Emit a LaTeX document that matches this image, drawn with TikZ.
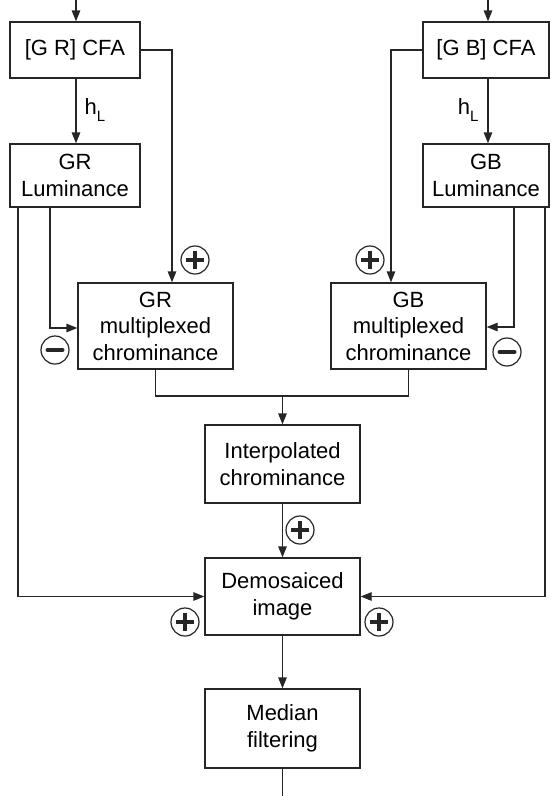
\documentclass[tikz,border=0pt]{standalone}
\usepackage{fontspec}
\setmainfont{Liberation Sans}
\usetikzlibrary{arrows.meta,calc}
\begin{document}
\begin{tikzpicture}[x=1pt,y=-1pt,
  line width=1.3pt, draw=black!85,
  box/.style={draw=black!85, line width=1.3pt, inner sep=0pt, align=center,
    font=\fontsize{22}{26.5}\selectfont},
  arr/.style={-{Triangle[length=11pt,width=8.5pt]}},
  lbl/.style={inner sep=0pt, font=\fontsize{22}{26}\selectfont},
  sgn/.style={circle, draw=black!85, minimum size=28pt, inner sep=0pt, line width=1.2pt},
  plus/.style={sgn, path picture={
    \draw[line width=3.4pt] ($(path picture bounding box.center)+(-9,0)$) -- ++(18,0);
    \draw[line width=3.4pt] ($(path picture bounding box.center)+(0,-9)$) -- ++(0,18);}},
  minus/.style={sgn, path picture={
    \draw[line width=4pt, line cap=round] ($(path picture bounding box.center)+(-7.5,0)$) -- ++(15,0);}},
]
\useasboundingbox (0,0) rectangle (550,796);

% boxes
\node[box, minimum width=130pt, minimum height=56pt] (cfaR) at (75,50) {[G R] CFA};
\node[box, minimum width=126pt, minimum height=56pt] (cfaB) at (486,50) {[G B] CFA};
\node[box, minimum width=130pt, minimum height=63pt] (lumR) at (75,175.5) {GR\\Luminance};
\node[box, minimum width=126pt, minimum height=63pt] (lumB) at (486,175.5) {GB\\Luminance};
\node[box, minimum width=155pt, minimum height=86pt] (muxR) at (155.5,326) {GR\\multiplexed\\chrominance};
\node[box, minimum width=155pt, minimum height=86pt] (muxB) at (408.5,326) {GB\\multiplexed\\chrominance};
\node[box, minimum width=155pt, minimum height=78pt] (interp) at (282.5,464) {Interpolated\\chrominance};
\node[box, minimum width=155pt, minimum height=77pt] (demo) at (282.5,596.5) {Demosaiced\\image};
\node[box, minimum width=155pt, minimum height=79pt] (median) at (282.5,728.5) {Median\\filtering};

% coordinates for vertical lines
\coordinate (inR) at (76,0);
\coordinate (inB) at (488,0);
\coordinate (cR) at (172,0);
\coordinate (cB) at (391,0);
\coordinate (aR) at (50,0);
\coordinate (oR) at (18,0);
\coordinate (aB) at (514,0);
\coordinate (oB) at (545,0);
\coordinate (j) at (282.5,396);
\coordinate (out) at (282.5,796);

% connectors
\draw[arr] (inR) -- (inR |- cfaR.north);
\draw[arr] (inB) -- (inB |- cfaB.north);
\draw[arr] (inR |- cfaR.south) -- (inR |- lumR.north);
\draw[arr] (inB |- cfaB.south) -- (inB |- lumB.north);
\draw[arr] (cfaR.east) -| (cR |- muxR.north);
\draw[arr] (cfaB.west) -| (cB |- muxB.north);
\draw[arr] (aR |- lumR.south) |- ($(muxR.west)+(0,2)$);
\draw[arr] (aB |- lumB.south) |- ($(muxB.east)+(0,1)$);
\draw[arr] (oR |- lumR.south) |- (demo.west);
\draw[arr] (oB |- lumB.south) |- (demo.east);
\draw (muxR.south) |- (j) -| (muxB.south);
\draw[arr] (j) -- (interp.north);
\draw[arr] (interp) -- (demo);
\draw[arr] (demo) -- (median);
\draw (median.south) -- (out);

% labels
\node[lbl, anchor=west] (hR) at (84,110) {h\raisebox{-7pt}{\fontsize{15}{15}\selectfont L}};
\node[lbl, anchor=east] (hB) at (479,110) {h\raisebox{-7pt}{\fontsize{15}{15}\selectfont L}};

% signs
\node[plus] (p1) at (195,260) {};
\node[plus] (p2) at (370,260) {};
\node[minus] (m1) at (55,350) {};
\node[minus] (m2) at (507,352) {};
\node[plus] (p3) at (300,530) {};
\node[plus] (p4) at (185,622) {};
\node[plus] (p5) at (379,622) {};
\end{tikzpicture}
\end{document}
